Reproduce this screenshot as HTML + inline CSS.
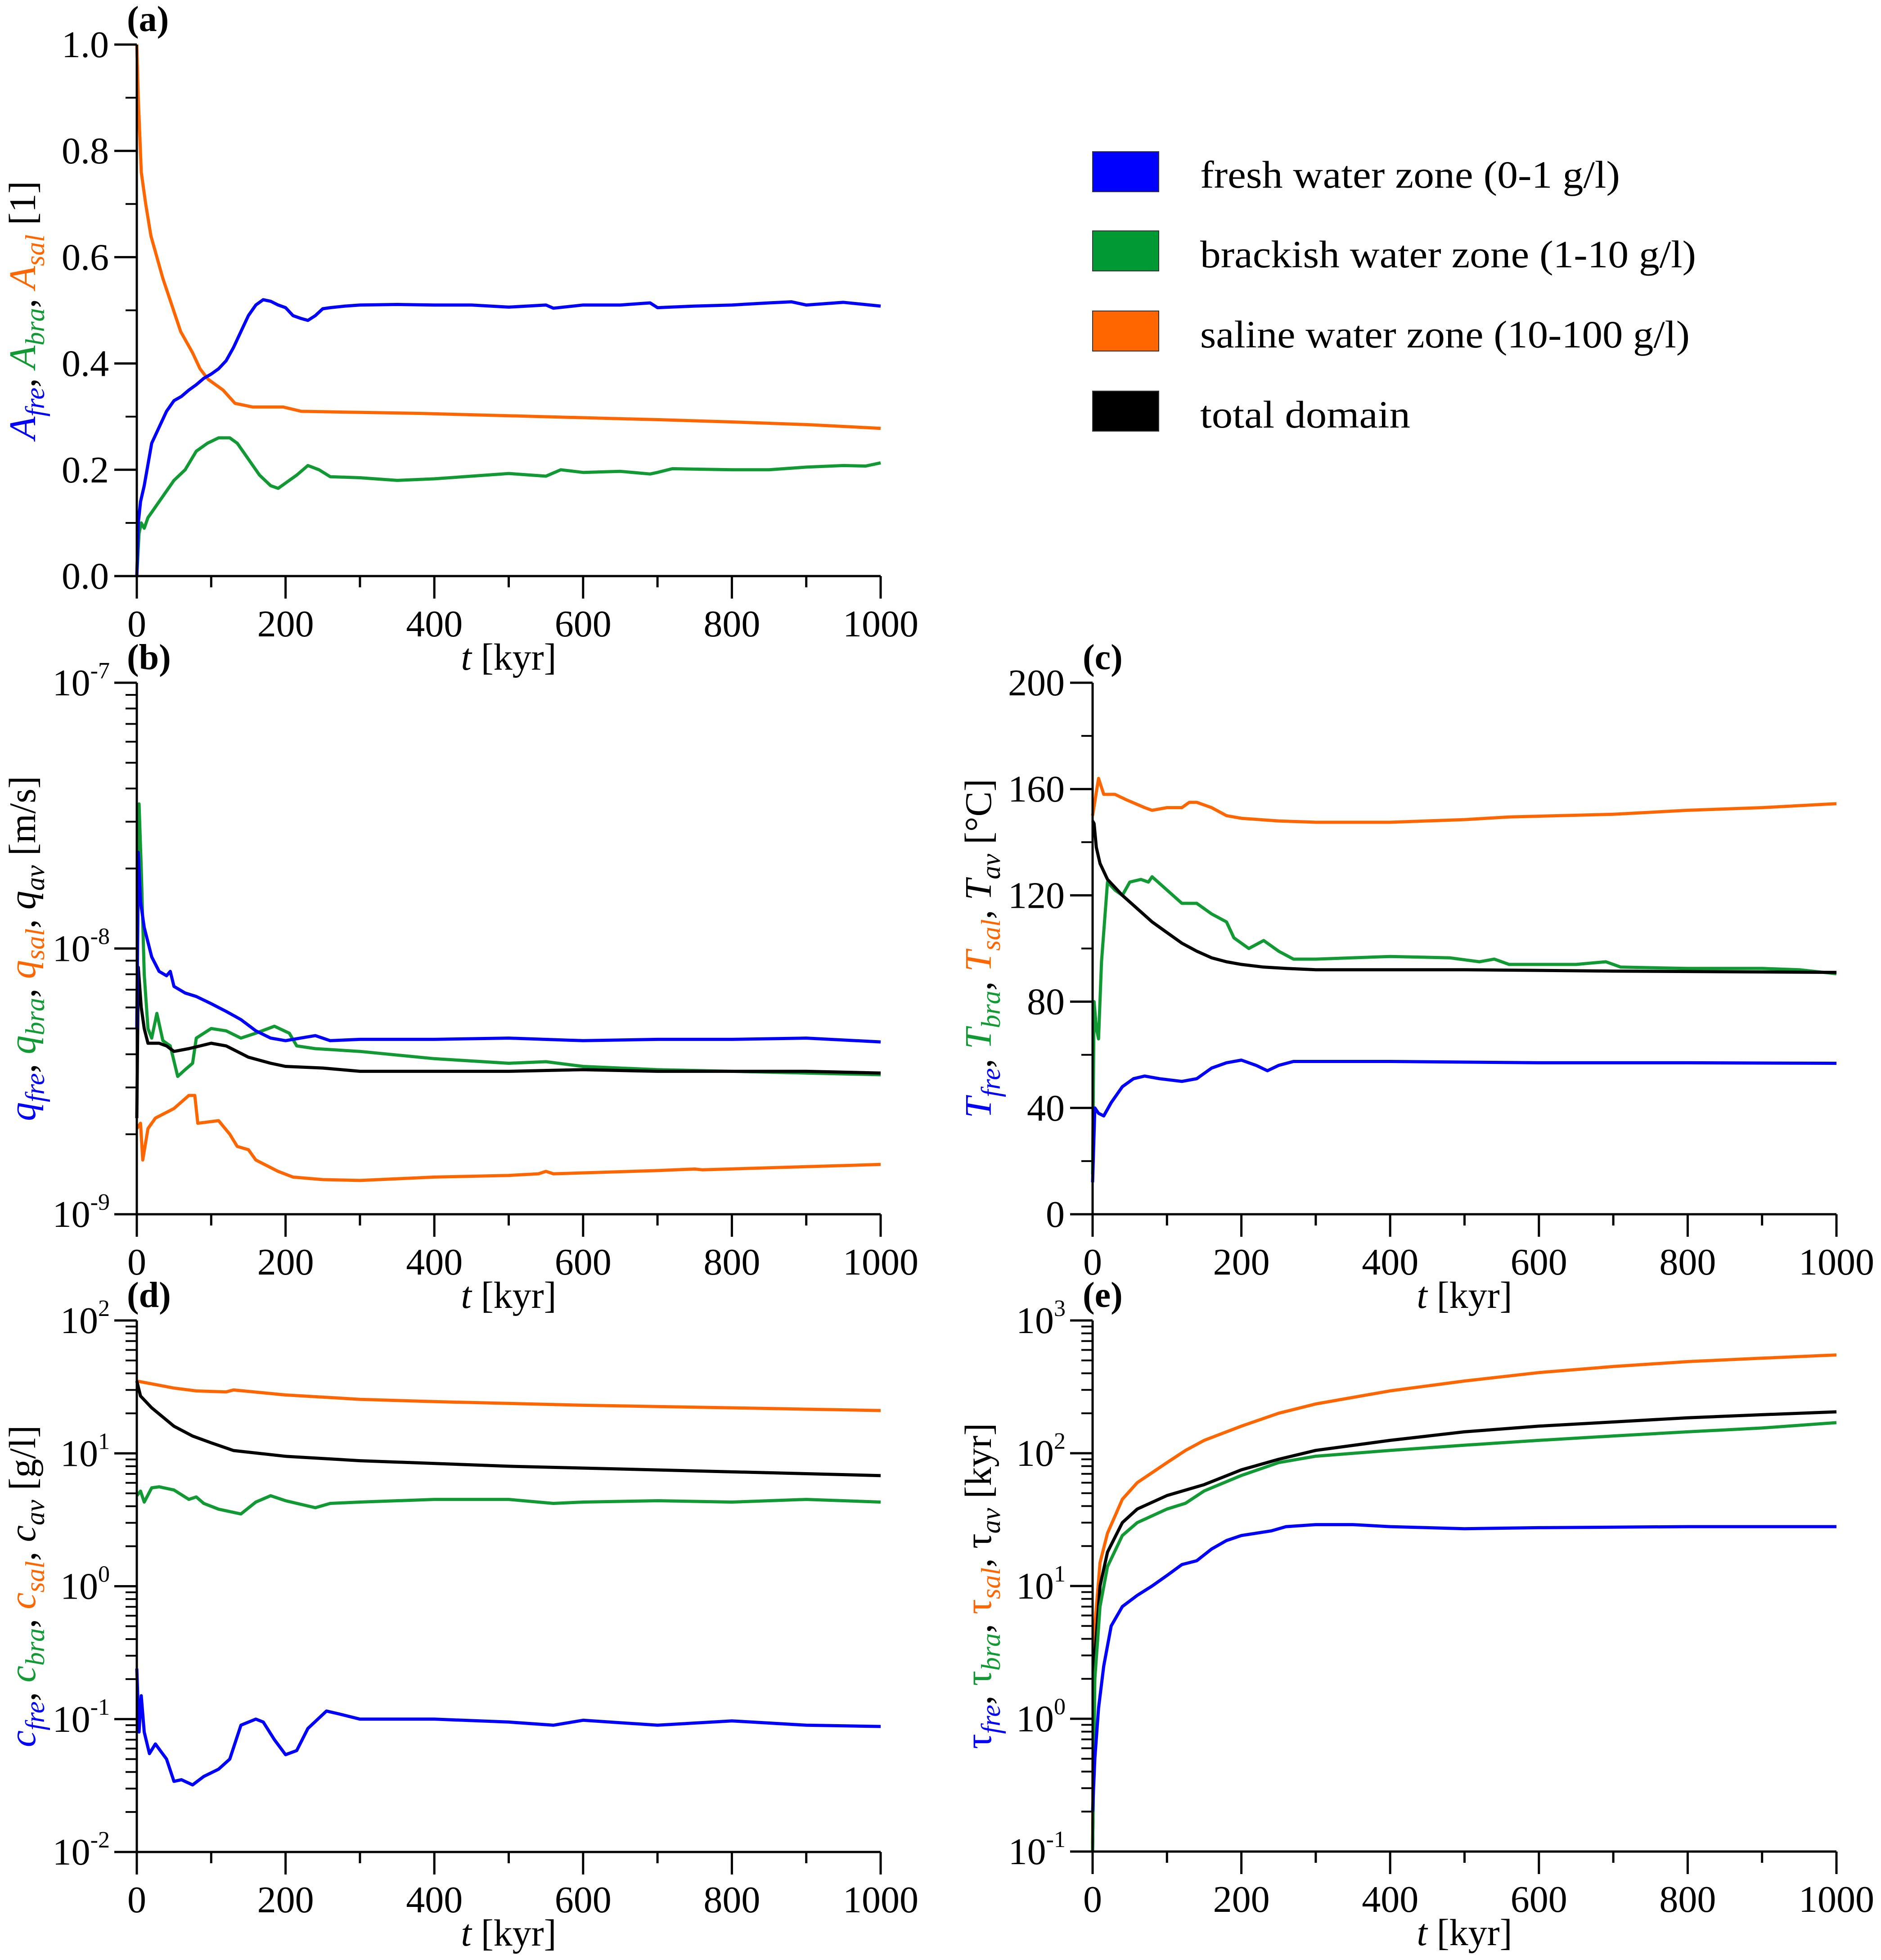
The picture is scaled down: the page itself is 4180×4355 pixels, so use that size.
<!DOCTYPE html>
<html><head><meta charset="utf-8"><style>
html,body{margin:0;padding:0;background:#fff;}
svg{display:block;font-family:"Liberation Serif",serif;}
</style></head><body>
<svg id="fig" width="4180" height="4355" viewBox="0 0 4180 4355" xmlns="http://www.w3.org/2000/svg">
<g id="legend">
 <g><rect x="2428" y="337" width="147" height="89" fill="#0000ff" stroke="#333" stroke-width="2"/><text x="2667" y="417" font-size="86" textLength="933" lengthAdjust="spacingAndGlyphs">fresh water zone (0-1 g/l)</text></g>
 <g><rect x="2428" y="513" width="147" height="89" fill="#009933" stroke="#333" stroke-width="2"/><text x="2667" y="594" font-size="86" textLength="1102" lengthAdjust="spacingAndGlyphs">brackish water zone (1-10 g/l)</text></g>
 <g><rect x="2428" y="691" width="147" height="89" fill="#ff6600" stroke="#333" stroke-width="2"/><text x="2667" y="772" font-size="86" textLength="1088" lengthAdjust="spacingAndGlyphs">saline water zone (10-100 g/l)</text></g>
 <g><rect x="2428" y="869" width="147" height="89" fill="#000" stroke="#333" stroke-width="2"/><text x="2667" y="950" font-size="86" textLength="467" lengthAdjust="spacingAndGlyphs">total domain</text></g>
</g>
</svg>
<script>
// ---- Panel (a) data ----
const tA_fre = [0,2,5,10,20,30,40,50,60,70,80,90,100,110,120,130,140,150,160,170,180,190,200,210,220,230,240,250,260,280,300,350,400,450,500,550,560,600,650,690,700,750,800,850,880,900,950,1000];
const vA_fre = [0.0,0.1,0.14,0.17,0.25,0.28,0.31,0.33,0.338,0.35,0.36,0.372,0.38,0.39,0.405,0.43,0.46,0.49,0.51,0.52,0.517,0.51,0.505,0.49,0.485,0.481,0.49,0.503,0.505,0.508,0.51,0.511,0.51,0.51,0.506,0.51,0.504,0.51,0.51,0.514,0.505,0.508,0.51,0.514,0.516,0.51,0.515,0.508];
const tA_bra = [0,3,6,10,15,20,35,50,65,80,95,110,125,135,150,165,180,190,200,215,230,245,260,300,350,400,450,500,550,570,600,650,690,700,720,800,850,900,950,980,1000];
const vA_bra = [0.0,0.08,0.1,0.09,0.11,0.12,0.15,0.18,0.2,0.235,0.25,0.26,0.26,0.25,0.22,0.19,0.17,0.165,0.175,0.19,0.208,0.2,0.187,0.185,0.18,0.183,0.188,0.193,0.188,0.2,0.195,0.197,0.192,0.195,0.202,0.2,0.2,0.205,0.208,0.207,0.213];
const tA_sal = [0,2,6,12,19,35,59,75,85,96,116,132,156,197,221,300,383,545,707,800,900,1000];
const vA_sal = [1.0,0.9,0.76,0.7,0.64,0.56,0.46,0.42,0.39,0.37,0.35,0.325,0.318,0.318,0.31,0.308,0.306,0.3,0.294,0.29,0.285,0.278];
// ---- Panel (b) data ----
const tB_fre = [0,2,5,10,20,30,40,45,50,65,80,100,120,140,160,180,200,220,240,260,300,400,500,600,700,800,900,1000];
const vB_fre = [5e-9,2.3e-8,1.5e-8,1.2e-8,9.3e-9,8.2e-9,7.9e-9,8.2e-9,7.2e-9,6.8e-9,6.6e-9,6.2e-9,5.8e-9,5.4e-9,4.9e-9,4.6e-9,4.5e-9,4.6e-9,4.7e-9,4.5e-9,4.55e-9,4.55e-9,4.6e-9,4.5e-9,4.55e-9,4.55e-9,4.6e-9,4.45e-9];
const tB_bra = [0,3,6,10,15,20,27,35,45,55,65,75,80,100,120,140,160,185,205,215,240,300,400,500,550,600,700,800,900,1000];
const vB_bra = [5e-9,3.5e-8,2e-8,8e-9,5e-9,4.6e-9,5.7e-9,4.5e-9,4.3e-9,3.3e-9,3.5e-9,3.7e-9,4.6e-9,5.0e-9,4.9e-9,4.6e-9,4.8e-9,5.1e-9,4.8e-9,4.3e-9,4.2e-9,4.1e-9,3.85e-9,3.7e-9,3.75e-9,3.6e-9,3.5e-9,3.45e-9,3.4e-9,3.35e-9];
const tB_sal = [0,5,8,15,25,50,70,78,82,110,125,135,150,160,190,210,250,300,400,500,540,550,560,700,750,760,1000];
const vB_sal = [2.1e-9,2.2e-9,1.6e-9,2.1e-9,2.3e-9,2.5e-9,2.8e-9,2.8e-9,2.2e-9,2.25e-9,2.0e-9,1.8e-9,1.75e-9,1.6e-9,1.45e-9,1.38e-9,1.35e-9,1.34e-9,1.38e-9,1.4e-9,1.42e-9,1.45e-9,1.42e-9,1.46e-9,1.48e-9,1.47e-9,1.54e-9];
const tB_av = [0,2,6,10,15,30,40,50,70,100,120,150,180,200,250,300,400,500,600,700,800,900,1000];
const vB_av = [2.3e-9,8.5e-9,6e-9,5e-9,4.4e-9,4.4e-9,4.3e-9,4.1e-9,4.2e-9,4.4e-9,4.3e-9,3.9e-9,3.7e-9,3.6e-9,3.55e-9,3.45e-9,3.45e-9,3.45e-9,3.5e-9,3.45e-9,3.45e-9,3.45e-9,3.4e-9];
// ---- Panel (c) data ----
const tC_fre = [0,3,8,15,25,40,55,70,90,120,140,160,180,200,220,235,250,270,400,600,800,1000];
const vC_fre = [12,40,38,37,42,48,51,52,51,50,51,55,57,58,56,54,56,57.5,57.5,57,57,56.8];
const tC_bra = [0,2,5,8,12,20,30,40,50,65,75,80,100,120,140,160,180,190,200,210,230,250,270,300,400,480,520,540,560,650,690,710,800,900,950,1000];
const vC_bra = [15,80,70,66,95,125,122,120,125,126,125,127,122,117,117,113,110,104,102,100,103,99,96,96,97,96.5,95,96,94,94,95,93,92.5,92.5,92,90.5];
const tC_sal = [0,8,15,30,45,70,80,100,120,130,140,160,180,200,250,300,400,500,560,700,800,900,1000];
const vC_sal = [150,164,158,158,156,153,152,153,153,155,155,153,150,149,148,147.5,147.5,148.5,149.5,150.5,152,153,154.5];
const tC_av = [0,2,5,10,20,40,60,80,100,120,140,160,180,200,230,260,300,500,700,1000];
const vC_av = [148,147,138,132,126,120,115,110,106,102,99,96.5,95,94,93,92.5,92,92,91.5,91];
// ---- Panel (d) data ----
const tD_fre = [0,3,6,10,17,25,40,50,60,75,90,110,125,140,160,170,185,200,215,230,255,270,300,400,500,560,600,700,800,900,1000];
const vD_fre = [0.24,0.08,0.15,0.08,0.055,0.065,0.05,0.034,0.035,0.032,0.037,0.042,0.05,0.09,0.1,0.095,0.07,0.054,0.058,0.085,0.115,0.11,0.1,0.1,0.095,0.09,0.098,0.09,0.097,0.09,0.088];
const tD_bra = [0,5,10,20,30,50,70,80,90,110,140,160,180,200,240,260,300,400,500,560,600,700,800,900,1000];
const vD_bra = [4.8,5.2,4.3,5.5,5.6,5.3,4.5,4.7,4.2,3.8,3.5,4.3,4.8,4.4,3.9,4.2,4.3,4.5,4.5,4.2,4.3,4.4,4.3,4.5,4.3];
const tD_sal = [0,50,80,120,130,200,300,400,600,800,1000];
const vD_sal = [35,31,29.5,29,30,27.5,25.5,24.5,23,22,21];
const tD_av = [0,5,20,50,75,100,130,200,300,500,700,1000];
const vD_av = [35,27,22,16,13.5,12,10.5,9.5,8.8,8,7.5,6.8];
// ---- Panel (e) data ----
const tE_fre = [0,3,8,15,25,40,60,80,100,120,140,160,180,200,240,260,300,350,400,500,600,800,1000];
const vE_fre = [0.2,0.5,1.2,2.5,5,7,8.5,10,12,14.5,15.5,19,22,24,26,28,29,29,28,27,27.5,28,28];
const tE_bra = [0,3,10,20,40,60,100,125,150,200,250,300,400,500,600,700,800,900,1000];
const vE_bra = [0.1,2,7,14,24,30,38,42,52,68,85,95,105,115,125,135,145,155,170];
const tE_sal = [0,1,3,10,20,40,60,100,125,150,200,250,300,400,500,600,700,800,900,1000];
const vE_sal = [0.1,2,5,15,25,45,60,85,105,125,160,200,235,295,350,405,450,490,520,550];
const tE_av = [0,3,10,20,40,60,100,150,200,250,300,400,500,600,700,800,900,1000];
const vE_av = [0.1,3,10,18,30,38,48,58,75,90,105,125,145,160,172,185,195,205];

const xTicks = [0,200,400,600,800,1000];
const NS = "http://www.w3.org/2000/svg";
const svg = document.getElementById('fig');
const COL = {fre:"#0000ff", bra:"#119933", sal:"#ff6600", av:"#000000"};

function mk(tag, attrs, parent){
  const e = document.createElementNS(NS, tag);
  for (const k in attrs) e.setAttribute(k, attrs[k]);
  (parent||svg).appendChild(e);
  return e;
}

function panel(cfg){
  const g = mk('g', {});
  
  
  const x0=cfg.x0, x1=cfg.x1, yT=cfg.yT, yB=cfg.yB;
  const sx = t => x0 + (t/1000)*(x1-x0);
  const sy = cfg.log
    ? v => yB - (Math.log10(v)-cfg.lmin)/(cfg.lmax-cfg.lmin)*(yB-yT)
    : v => yB - (v-cfg.min)/(cfg.max-cfg.min)*(yB-yT);
  // series
  cfg.series.forEach(s=>{
    let d = '';
    s.t.forEach((t,i)=>{ d += (i?'L':'M') + sx(t).toFixed(1) + ' ' + sy(s.v[i]).toFixed(1); });
    const p = mk('path', {d:d, fill:'none', stroke:COL[s.k], 'stroke-width':7, 'stroke-linejoin':'round'}, g);
    
    
  });
  // axes
  const ax = mk('path', {d:`M${x0} ${yT}L${x0} ${yB}L${x1} ${yB}`, fill:'none', stroke:'#000', 'stroke-width':5}, g);
  
  
  // x ticks
  for (let t=0;t<=1000;t+=100){
    const major = t%200===0;
    mk('line', {x1:sx(t), x2:sx(t), y1:yB, y2:yB+(major?50:25), stroke:'#000','stroke-width':5}, g);
  }
  xTicks.forEach(t=>{
    const tx = mk('text', {x:sx(t), y:yB+134, 'font-size':84, 'text-anchor':'middle'}, g);
    tx.textContent = t;
    
    
  });
  const xt = mk('text', {x:(x0+x1)/2, y:yB+208, 'font-size':84, 'text-anchor':'middle'}, g);
  xt.innerHTML = '<tspan font-style="italic">t</tspan> [kyr]';
  
  
  // y ticks
  if (cfg.log){
    for (let e=cfg.lmin;e<=cfg.lmax;e++){
      mk('line', {x1:x0-50, x2:x0, y1:sy(Math.pow(10,e)), y2:sy(Math.pow(10,e)), stroke:'#000','stroke-width':5}, g);
      const tx = mk('text', {x:x0-60, y:sy(Math.pow(10,e))+28, 'font-size':84, 'text-anchor':'end'}, g);
      tx.innerHTML = '10<tspan font-size="52" dy="-38">' + e + '</tspan>';
      
      
      if (e<cfg.lmax) for (let m=2;m<=9;m++){
        const yy = sy(m*Math.pow(10,e));
        mk('line', {x1:x0-25, x2:x0, y1:yy, y2:yy, stroke:'#000','stroke-width':4}, g);
      }
    }
  } else {
    for (let v=cfg.min; v<=cfg.max+1e-9; v+=cfg.minor){
      const yy = sy(v);
      mk('line', {x1:x0-25, x2:x0, y1:yy, y2:yy, stroke:'#000','stroke-width':4}, g);
    }
    cfg.yTicks.forEach(v=>{
      const yy = sy(v);
      mk('line', {x1:x0-50, x2:x0, y1:yy, y2:yy, stroke:'#000','stroke-width':5}, g);
      const tx = mk('text', {x:x0-62, y:yy+28, 'font-size':84, 'text-anchor':'end'}, g);
      tx.textContent = cfg.fmt(v);
      
      
    });
  }
  // y title
  const cy = (yT+yB)/2;
  const yt = mk('text', {x:0, y:0, 'font-size':84, 'text-anchor':'middle', transform:`translate(${cfg.lx},${cy}) rotate(-90)`}, g);
  const sym = cfg.sym, it = cfg.symItalic ? 'italic' : 'normal';
  const part = (k,sub,col,comma)=>`<tspan fill="${col}" font-style="${it}">${sym}</tspan><tspan fill="${col}" font-style="italic" font-size="60" dy="20">${sub}</tspan><tspan dy="-20" fill="#000">${comma?', ':' '}</tspan>`;
  yt.innerHTML = part('fre','fre',COL.fre,1)+part('bra','bra',COL.bra,1)+part('sal','sal',COL.sal,cfg.hasAv)+
    (cfg.hasAv?part('av','av',COL.av,0):'') + '<tspan fill="#000">' + cfg.unit + '</tspan>';
  
  
  // panel letter
  const pl = mk('text', {x:cfg.x0-22, y:yT-30, 'font-size':80, 'font-weight':'bold'}, g);
  pl.textContent = '(' + cfg.id + ')';
  
  
}

panel({id:'a', x0:304, x1:1957, yT:99, yB:1280, min:0, max:1, minor:0.1, yTicks:[0,0.2,0.4,0.6,0.8,1.0], fmt:v=>v.toFixed(1), lx:78, sym:'A', symItalic:true, hasAv:false, unit:'[1]',
  series:[{k:'sal',t:tA_sal,v:vA_sal},{k:'bra',t:tA_bra,v:vA_bra},{k:'fre',t:tA_fre,v:vA_fre}]});
panel({id:'b', x0:304, x1:1957, yT:1517, yB:2698, log:true, lmin:-9, lmax:-7, lx:78, sym:'q', symItalic:true, hasAv:true, unit:'[m/s]',
  series:[{k:'sal',t:tB_sal,v:vB_sal},{k:'bra',t:tB_bra,v:vB_bra},{k:'av',t:tB_av,v:vB_av},{k:'fre',t:tB_fre,v:vB_fre}]});
panel({id:'c', x0:2428, x1:4081, yT:1517, yB:2698, min:0, max:200, minor:20, yTicks:[0,40,80,120,160,200], fmt:v=>String(v), lx:2202, sym:'T', symItalic:true, hasAv:true, unit:'[°C]',
  series:[{k:'sal',t:tC_sal,v:vC_sal},{k:'bra',t:tC_bra,v:vC_bra},{k:'av',t:tC_av,v:vC_av},{k:'fre',t:tC_fre,v:vC_fre}]});
panel({id:'d', x0:304, x1:1957, yT:2934, yB:4115, log:true, lmin:-2, lmax:2, lx:78, sym:'c', symItalic:true, hasAv:true, unit:'[g/l]',
  series:[{k:'sal',t:tD_sal,v:vD_sal},{k:'bra',t:tD_bra,v:vD_bra},{k:'av',t:tD_av,v:vD_av},{k:'fre',t:tD_fre,v:vD_fre}]});
panel({id:'e', x0:2428, x1:4081, yT:2934, yB:4114, log:true, lmin:-1, lmax:3, lx:2202, sym:'τ', symItalic:false, hasAv:true, unit:'[kyr]',
  series:[{k:'sal',t:tE_sal,v:vE_sal},{k:'av',t:tE_av,v:vE_av},{k:'bra',t:tE_bra,v:vE_bra},{k:'fre',t:tE_fre,v:vE_fre}]});
</script>
</body></html>
